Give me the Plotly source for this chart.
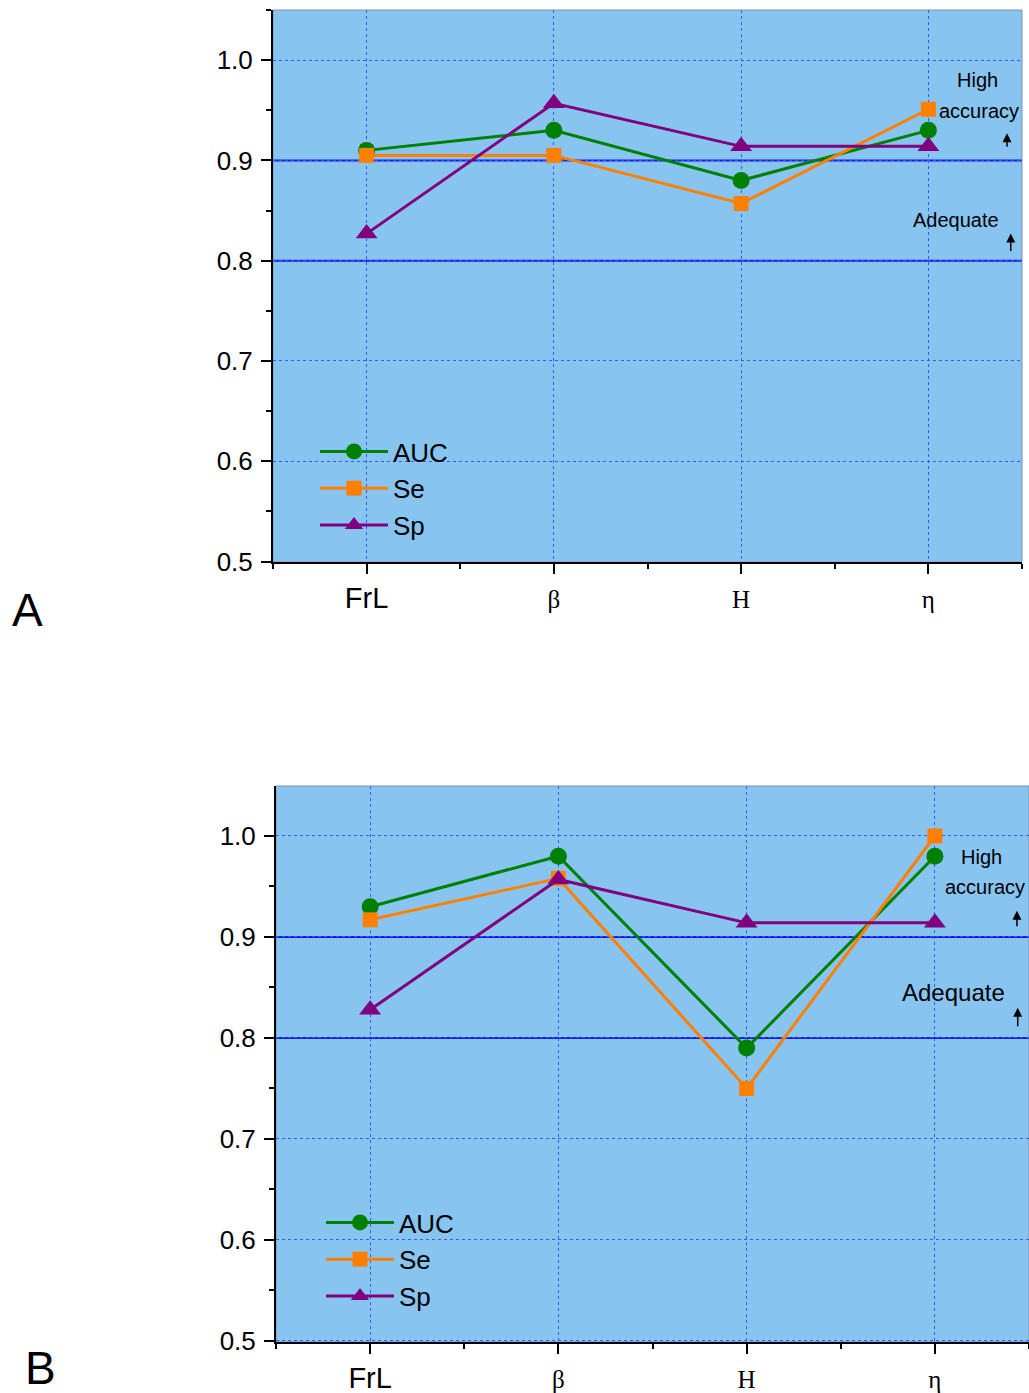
import plotly.graph_objects as go

categories = ["FrL", "β", "H", "η"]
tick_text = [
    "FrL",
    '<span style="font-family:Liberation Serif, Times New Roman, serif;font-size:25px">β</span>',
    '<span style="font-family:Liberation Serif, Times New Roman, serif;font-size:25px">H</span>',
    '<span style="font-family:Liberation Serif, Times New Roman, serif;font-size:25px">η</span>',
]

# Panel A values
auc_a = [0.91, 0.93, 0.88, 0.93]
se_a = [0.905, 0.905, 0.857, 0.951]
sp_a = [0.827, 0.957, 0.914, 0.914]

# Panel B values
auc_b = [0.93, 0.98, 0.79, 0.98]
se_b = [0.917, 0.958, 0.75, 1.0]
sp_b = [0.828, 0.957, 0.914, 0.914]

series_names = ["AUC", "Se", "Sp"]
series_colors = ["#008000", "#FF8000", "#800080"]
series_symbols = ["circle", "square", "triangle-up"]
series_sizes = [17, 15, 19]

W, H = 1029, 1393
SANS = "Liberation Sans, Arial, sans-serif"
BG = "#88C4F0"
GRID = "#2F5BFF"
REF = "#1A1AE6"

xpos = list(range(len(categories)))

fig = go.Figure()

for vals_set, xa, ya, leg in [((auc_a, se_a, sp_a), "x", "y", "legend"),
                             ((auc_b, se_b, sp_b), "x2", "y2", "legend2")]:
    for name, vals, col, sym, sz in zip(series_names, vals_set, series_colors, series_symbols, series_sizes):
        fig.add_trace(go.Scatter(
            x=xpos, y=vals, mode="lines+markers", name=name,
            line=dict(color=col, width=3),
            marker=dict(symbol=sym, size=sz, color=col),
            xaxis=xa, yaxis=ya, legend=leg,
        ))

def xaxis_cfg(domain, anchor):
    return dict(
        domain=domain, anchor=anchor, range=[-0.5, 3.5],
        tickmode="array", tickvals=xpos, ticktext=tick_text,
        ticks="outside", ticklen=10, tickwidth=2, tickcolor="black",
        showline=True, linecolor="black", linewidth=2,
        showgrid=True, gridcolor=GRID, griddash="dot", gridwidth=1,
        zeroline=False, automargin=False,
        tickfont=dict(family=SANS, size=29, color="black"),
        ticklabelstandoff=-1,
        minor=dict(dtick=0.5, tick0=-0.5, ticks="outside", ticklen=5, tickwidth=2,
                   tickcolor="black", showgrid=False),
    )

def yaxis_cfg(domain, anchor, rng):
    return dict(
        domain=domain, anchor=anchor, range=rng,
        tickmode="linear", tick0=0.5, dtick=0.1, tickformat=".1f",
        ticks="outside", ticklen=10, tickwidth=2, tickcolor="black",
        showline=True, linecolor="black", linewidth=2,
        showgrid=True, gridcolor=GRID, griddash="dot", gridwidth=1,
        zeroline=False, automargin=False,
        tickfont=dict(family=SANS, size=26, color="black"),
        ticklabelstandoff=3,
        minor=dict(dtick=0.05, tick0=0.5, ticks="outside", ticklen=5, tickwidth=2,
                   tickcolor="black", showgrid=False),
    )

fig.update_layout(
    width=W, height=H,
    margin=dict(l=0, r=0, t=0, b=0, autoexpand=False),
    paper_bgcolor="white", plot_bgcolor=BG,
    xaxis=xaxis_cfg([273 / W, 1022 / W], "y"),
    yaxis=yaxis_cfg([1 - 562 / H, 1 - 10 / H], "x", [0.4995, 1.05]),
    xaxis2=xaxis_cfg([276 / W, 1.0], "y2"),
    yaxis2=yaxis_cfg([1 - 1342 / H, 1 - 786 / H], "x2", [0.499, 1.0495]),
    legend=dict(x=315 / W, y=1 - 428 / H, xanchor="left", yanchor="top",
                bgcolor="rgba(0,0,0,0)", font=dict(family=SANS, size=26, color="black"),
                tracegroupgap=0, itemwidth=68),
    legend2=dict(x=321 / W, y=1 - 1199 / H, xanchor="left", yanchor="top",
                 bgcolor="rgba(0,0,0,0)", font=dict(family=SANS, size=26, color="black"),
                 tracegroupgap=0, itemwidth=68),
    showlegend=True,
)

# reference lines at 0.8 and 0.9
for xa, ya in [("x", "y"), ("x2", "y2")]:
    for yv in [0.8, 0.9]:
        fig.add_shape(type="line", xref=f"{xa} domain", yref=ya, x0=0, x1=1, y0=yv, y1=yv,
                      line=dict(color=REF, width=2), layer="below")
    fig.add_shape(type="rect", xref=f"{xa} domain", yref=f"{ya} domain", x0=0, x1=1, y0=0, y1=1,
                  line=dict(color="#7A93AD", width=1), layer="below")

def txt(x, y, s, size, xa, ya):
    fig.add_annotation(x=x, y=y, xref=xa, yref=ya, text=s, showarrow=False,
                       font=dict(family=SANS, size=size, color="black"))

def arrow(x, y, length, xa, ya):
    fig.add_annotation(x=x, y=y, xref=xa, yref=ya, text="", showarrow=True,
                       ax=0, ay=length, arrowhead=2, arrowsize=1.2, arrowwidth=1.5,
                       arrowcolor="black")

# Panel A annotations
txt(3.26, 0.980, "High", 20, "x", "y")
txt(3.27, 0.949, "accuracy", 20, "x", "y")
txt(3.148, 0.841, "Adequate", 20, "x", "y")
arrow(3.42, 0.927, 15, "x", "y")
arrow(3.44, 0.827, 19, "x", "y")

# Panel B annotations
txt(3.25, 0.979, "High", 20, "x2", "y2")
txt(3.266, 0.9495, "accuracy", 20, "x2", "y2")
txt(3.10, 0.8455, "Adequate", 24, "x2", "y2")
arrow(3.436, 0.926, 17, "x2", "y2")
arrow(3.44, 0.830, 20, "x2", "y2")

# Panel letters
fig.add_annotation(x=27 / W, y=1 - 610 / H, xref="paper", yref="paper", text="A", showarrow=False,
                   xanchor="center", yanchor="middle",
                   font=dict(family=SANS, size=46, color="black"))
fig.add_annotation(x=40 / W, y=1 - 1368 / H, xref="paper", yref="paper", text="B", showarrow=False,
                   xanchor="center", yanchor="middle",
                   font=dict(family=SANS, size=46, color="black"))

fig.write_html("out.html", config={"displayModeBar": False},
               post_script="document.body.style.margin='0';document.body.style.padding='0';document.documentElement.style.overflow='hidden';")
